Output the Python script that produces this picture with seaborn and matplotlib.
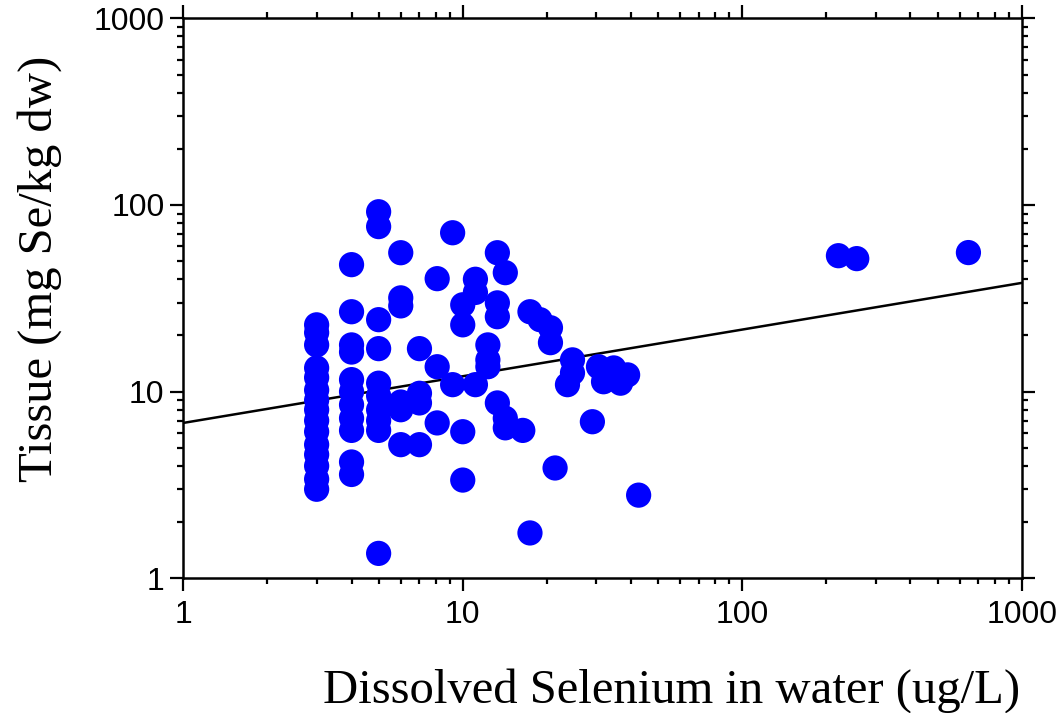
import numpy as np
import pandas as pd
import seaborn as sns
import matplotlib
matplotlib.use("Agg")
import matplotlib.pyplot as plt
from matplotlib.ticker import LogLocator, NullFormatter

# ---- data ----
water = [3]*15 + [4]*11 + [5]*10 + [6]*6 + [7]*4 + [8.1]*3 + [9.2]*2 + [10]*4 + \
        [11.1]*3 + [12.3]*3 + [13.3]*4 + [14.2]*3 + [16.4] + [17.4]*2 + [18.9] + \
        [20.6]*2 + [21.4] + [23.7] + [24.7]*2 + [29.1] + [30.6] + [31.9] + [34.7] + \
        [36.7] + [38.9] + [42.6] + [221] + [257] + [645]
tissue = [22.8, 20.7, 17.8, 13.4, 11.9, 10.2, 9.0, 8.0, 7.0, 6.1, 5.2, 4.6, 4.0, 3.4, 3.0,
          47.9, 26.8, 17.8, 16.3, 11.6, 10.0, 8.5, 7.2, 6.2, 4.2, 3.6,
          92, 76.6, 24.3, 17.0, 11.1, 9.5, 8.0, 7.0, 6.2, 1.36,
          55.5, 31.8, 28.8, 8.8, 8.0, 5.2,
          17.0, 9.8, 8.7, 5.2,
          40.3, 13.6, 6.8,
          71, 10.9,
          29.2, 22.8, 6.1, 3.36,
          40, 34, 10.9,
          17.8, 14.8, 13.6,
          55.5, 29.9, 25.2, 8.7,
          43.4, 7.2, 6.4,
          6.2,
          26.8, 1.75,
          24.3,
          22, 18.3,
          3.9,
          10.9,
          14.8, 12.6,
          6.9, 13.6, 11.3, 13.4, 11.1, 12.3, 2.79,
          53.5, 51.6, 55.6]

FIT_COEF = 6.8      # fitted power-law line: tissue = FIT_COEF * water ** FIT_EXP
FIT_EXP = 0.25

tick_values = [1, 10, 100, 1000]
tick_labels = ["1", "10", "100", "1000"]

x_title = "Dissolved Selenium in water (ug/L)"
y_title = "Tissue (mg Se/kg dw)"

# ---- figure ----
sns.set_style("ticks")
plt.rcParams['font.family'] = ['Liberation Sans', 'DejaVu Sans']
plt.rcParams.update({"text.color": "black", "axes.labelcolor": "black",
                     "xtick.color": "black", "ytick.color": "black",
                     "axes.edgecolor": "black"})

fig = plt.figure(figsize=(10.62, 7.13), dpi=100)
ax = fig.add_axes([0.1726, 0.1889, 0.7894, 0.7854])

df = pd.DataFrame({"water": water, "tissue": tissue})
sns.scatterplot(data=df, x="water", y="tissue", ax=ax, s=330, color="#0000FF",
                edgecolor="none", linewidth=0, zorder=3, legend=False)

ax.set_xscale("log")
ax.set_yscale("log")
ax.set_xlim(tick_values[0], tick_values[-1])
ax.set_ylim(tick_values[0], tick_values[-1])

lx = np.logspace(np.log10(tick_values[0]), np.log10(tick_values[-1]), 60)
sns.lineplot(x=lx, y=FIT_COEF * lx ** FIT_EXP, ax=ax, color="black", lw=1.8, zorder=2)

ax.set_xticks(tick_values, labels=tick_labels)
ax.set_yticks(tick_values, labels=tick_labels)
for axis in (ax.xaxis, ax.yaxis):
    axis.set_minor_locator(LogLocator(base=10, subs=np.arange(2, 10), numticks=20))
    axis.set_minor_formatter(NullFormatter())

ax.tick_params(which="major", direction="out", length=9.5, width=1.6,
               labelsize=23, top=True, right=True, labeltop=False, labelright=False,
               color="black", labelcolor="black")
ax.tick_params(axis="x", which="major", pad=6)
ax.tick_params(axis="y", which="major", pad=4)
ax.tick_params(which="minor", direction="out", length=4.5, width=1.6,
               top=True, right=True, color="black")
for sp in ax.spines.values():
    sp.set_visible(True)
    sp.set_linewidth(1.8)
    sp.set_color("black")

ax.set_xlabel(x_title, fontsize=35, color="black", family=["Liberation Serif", "DejaVu Serif"])
ax.set_ylabel(y_title, fontsize=35, color="black", family=["Liberation Serif", "DejaVu Serif"])
ax.xaxis.set_label_coords(0.582, -0.20)
ax.xaxis.label.set_va("center")
ax.yaxis.set_label_coords(-0.171, 0.552)
ax.yaxis.label.set_va("center")

fig.savefig("out.png", dpi=100, facecolor="white")
